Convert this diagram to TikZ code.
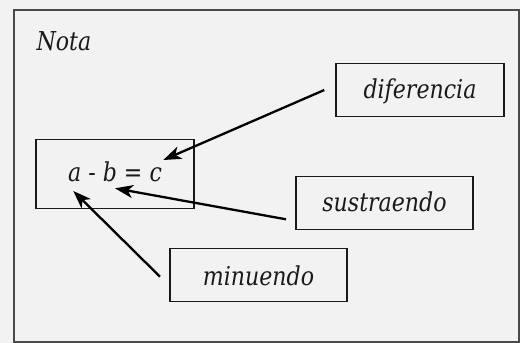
\documentclass[tikz,border=0pt]{standalone}
\usepackage{fontspec}
\usetikzlibrary{arrows.meta}
\newfontfamily\notefont{DejaVu Serif}[FakeStretch=0.85]
\definecolor{paper}{HTML}{F2F2F2}
\definecolor{frameline}{HTML}{4A4A4A}
\definecolor{ink}{HTML}{1A1A1A}
\tikzset{
  every node/.style={font=\notefont\itshape\fontsize{26}{31}\selectfont, text=ink},
  termbox/.style={draw=ink, line width=1.3pt, inner sep=0pt, text depth=0pt},
  pointer/.style={draw=black, line width=2.3pt, -{Stealth[length=18pt, width=13pt, inset=5pt]}},
}
\begin{document}
\begin{tikzpicture}[x=1pt, y=-1pt]
  % canvas and note frame
  \fill[paper] (0,0) rectangle (520,343);
  \useasboundingbox (0,0) rectangle (520,343);
  \draw[frameline, line width=1.3pt] (14,10) rectangle (519,342);
  \node[anchor=base west] (title) at (33,50) {Nota};

  % boxed terms
  \node[termbox, minimum width=168pt, minimum height=53pt, text height=16.6pt] (dif) at (420,90) {diferencia};
  \node[termbox, minimum width=177pt, minimum height=53pt, text height=18pt] (sus) at (384.5,202.7) {sustraendo};
  \node[termbox, minimum width=177pt, minimum height=53pt, text height=20.6pt] (min) at (258.5,274.7) {minuendo};
  \node[termbox, minimum width=158pt, minimum height=69pt, text height=14.4pt] (eq) at (115,173.8) {a - b = c};

  % pointer ends
  \coordinate (difTail) at (324.3,90);
  \coordinate (difHead) at (163.3,160);
  \coordinate (susTail) at (286,219.3);
  \coordinate (susHead) at (115,188.3);
  \coordinate (minTail) at (160,276.7);
  \coordinate (minHead) at (73.3,191);

  \draw[pointer] (difTail) -- (difHead);
  \draw[pointer] (susTail) -- (susHead);
  \draw[pointer] (minTail) -- (minHead);
\end{tikzpicture}
\end{document}
